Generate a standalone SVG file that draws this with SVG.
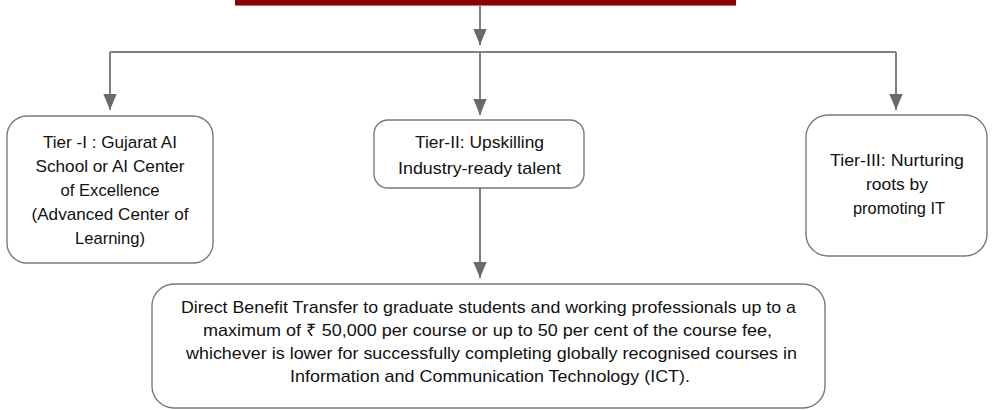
<svg xmlns="http://www.w3.org/2000/svg" width="992" height="410" viewBox="0 0 992 410">
<style>
.box{fill:#fff;stroke:#7a7a7a;stroke-width:1.4}
.t{font-family:"Liberation Sans",Arial,sans-serif;font-size:17px;fill:#111;text-anchor:middle}
.c{fill:none;stroke:#808080;stroke-width:2}
</style>
<defs>
<marker id="ah" markerUnits="userSpaceOnUse" markerWidth="16" markerHeight="20" refX="18" refY="7.5" orient="auto" viewBox="0 0 18 15">
<path d="M0,0 L18,7.5 L0,15 Z" fill="#6a6a6a"/>
</marker>
</defs>
<rect width="992" height="410" fill="#fff"/>
<g id="header">
<rect x="235" y="0" width="501" height="5" fill="#8b0000"/>
<rect x="235" y="5" width="501" height="1" fill="#c07070"/>
</g>
<g id="connectors">
<path class="c" d="M480,6 V45" marker-end="url(#ah)"/>
<path class="c" d="M110,52 H896"/>
<path class="c" d="M480,52 V115" marker-end="url(#ah)"/>
<path class="c" d="M110,52 V110" marker-end="url(#ah)"/>
<path class="c" d="M896,52 V110" marker-end="url(#ah)"/>
<path class="c" d="M480,188 V278" marker-end="url(#ah)"/>
</g>
<g id="tier1">
<rect class="box" x="7" y="116" width="206" height="147" rx="20"/>
<text class="t" x="110" y="148" textLength="134" lengthAdjust="spacingAndGlyphs">Tier -I : Gujarat AI</text>
<text class="t" x="110" y="172" textLength="149" lengthAdjust="spacingAndGlyphs">School or AI Center</text>
<text class="t" x="110" y="196" textLength="99" lengthAdjust="spacingAndGlyphs">of Excellence</text>
<text class="t" x="110" y="220" textLength="157" lengthAdjust="spacingAndGlyphs">(Advanced Center of</text>
<text class="t" x="110" y="244" textLength="70" lengthAdjust="spacingAndGlyphs">Learning)</text>
</g>
<g id="tier2">
<rect class="box" x="374" y="120" width="210" height="68" rx="14"/>
<text class="t" x="479.5" y="148" textLength="129" lengthAdjust="spacingAndGlyphs">Tier-II: Upskilling</text>
<text class="t" x="479.5" y="174" textLength="163" lengthAdjust="spacingAndGlyphs">Industry-ready talent</text>
</g>
<g id="tier3">
<rect class="box" x="806" y="115" width="181" height="141" rx="22"/>
<text class="t" x="897" y="166" textLength="134" lengthAdjust="spacingAndGlyphs">Tier-III: Nurturing</text>
<text class="t" x="897" y="190" textLength="62" lengthAdjust="spacingAndGlyphs">roots by</text>
<text class="t" x="899" y="214" textLength="92" lengthAdjust="spacingAndGlyphs">promoting IT</text>
</g>
<g id="dbt">
<rect class="box" x="152" y="284" width="673" height="124" rx="22"/>
<text class="t" x="488.5" y="313" textLength="615" lengthAdjust="spacingAndGlyphs">Direct Benefit Transfer to graduate students and working professionals up to a</text>
<text class="t" x="487.5" y="336" textLength="569" lengthAdjust="spacingAndGlyphs">maximum of ₹ 50,000 per course or up to 50 per cent of the course fee,</text>
<text class="t" x="491.5" y="359" textLength="611" lengthAdjust="spacingAndGlyphs">whichever is lower for successfully completing globally recognised courses in</text>
<text class="t" x="490" y="382" textLength="400" lengthAdjust="spacingAndGlyphs">Information and Communication Technology (ICT).</text>
</g>
</svg>
